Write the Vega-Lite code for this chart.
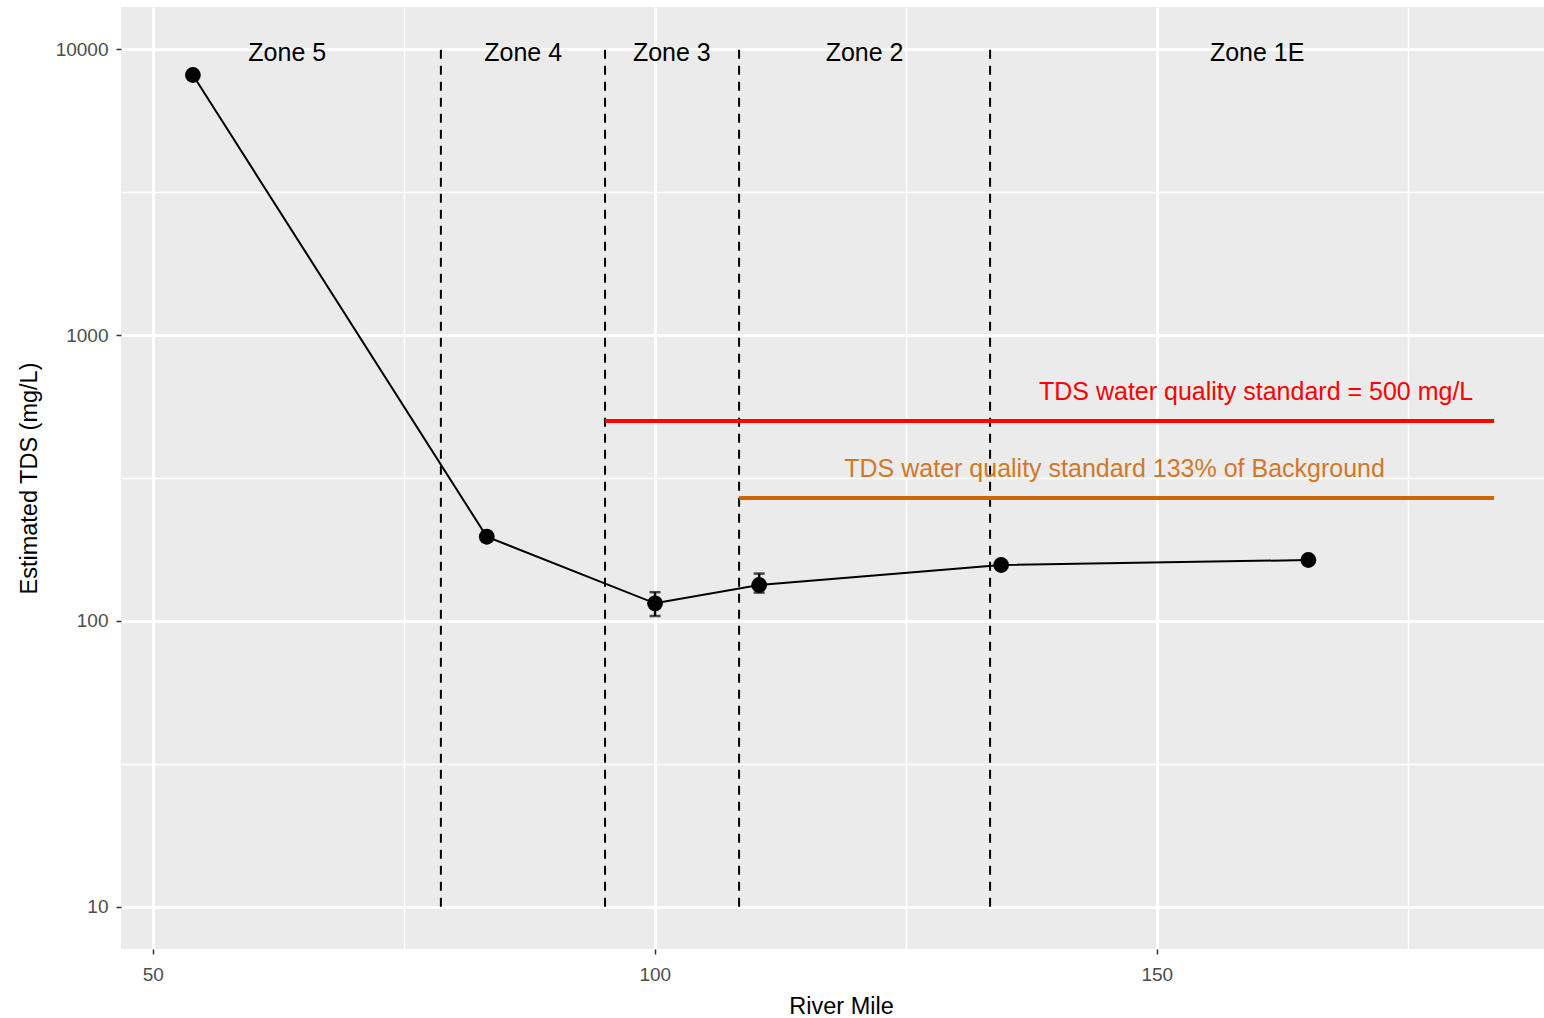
{
  "$schema": "https://vega.github.io/schema/vega-lite/v6.json",
  "width": 1423,
  "height": 942,
  "autosize": {"type": "none"},
  "padding": {"left": 121, "top": 7, "right": 0, "bottom": 69},
  "background": "white",
  "config": {
    "font": "Liberation Sans",
    "view": {"fill": "#EBEBEB", "stroke": null}
  },
  "datasets": {
    "points": [
      {"x": 54.0, "y": 8128},
      {"x": 83.27, "y": 197},
      {"x": 100.03, "y": 115.2},
      {"x": 110.4, "y": 133.5},
      {"x": 134.5, "y": 156.9},
      {"x": 165.1, "y": 163.3}
    ],
    "errors": [
      {"x": 54.0, "y": 7950, "y2": 8300},
      {"x": 83.27, "y": 190, "y2": 205},
      {"x": 100.03, "y": 104, "y2": 126},
      {"x": 110.4, "y": 125.6, "y2": 146.4},
      {"x": 134.5, "y": 152, "y2": 162},
      {"x": 165.1, "y": 158.5, "y2": 168}
    ],
    "zoneBounds": [
      {"x": 78.7, "y": 10, "y2": 10000},
      {"x": 95.05, "y": 10, "y2": 10000},
      {"x": 108.4, "y": 10, "y2": 10000},
      {"x": 133.4, "y": 10, "y2": 10000}
    ],
    "zones": [
      {"x": 63.4, "y": 9706, "label": "Zone 5"},
      {"x": 86.9, "y": 9706, "label": "Zone 4"},
      {"x": 101.7, "y": 9706, "label": "Zone 3"},
      {"x": 120.9, "y": 9706, "label": "Zone 2"},
      {"x": 160.0, "y": 9706, "label": "Zone 1E"}
    ],
    "std500": [{"x": 95.05, "x2": 183.6, "y": 500}],
    "std500label": [{"x": 159.9, "y": 632, "label": "TDS water quality standard = 500 mg/L"}],
    "std133": [{"x": 108.4, "x2": 183.6, "y": 269}],
    "std133label": [{"x": 145.8, "y": 340, "label": "TDS water quality standard 133% of Background"}]
  },
  "encoding": {
    "x": {
      "field": "x",
      "type": "quantitative",
      "scale": {"domain": [46.84, 188.57], "nice": false, "zero": false},
      "axis": {
        "title": "River Mile",
        "titleX": 720,
        "values": [50, 75, 100, 125, 150, 175],
        "labelExpr": "datum.value % 50 == 0 ? datum.label : ''",
        "domain": false,
        "grid": true,
        "gridColor": "white",
        "gridWidth": {"condition": {"test": "datum.value % 50 == 0", "value": 3}, "value": 1.5},
        "tickOpacity": {"condition": {"test": "datum.value % 50 == 0", "value": 1}, "value": 0},
        "tickColor": "#333333",
        "tickWidth": 1.5,
        "tickSize": 5,
        "labelFontSize": 19,
        "labelColor": "#4D4D4D",
        "labelPadding": 11,
        "titleFontSize": 23.5,
        "titleFontWeight": "normal",
        "titleColor": "black",
        "titlePadding": 10
      }
    },
    "y": {
      "field": "y",
      "type": "quantitative",
      "scale": {"type": "log", "domain": [7.11, 14061], "nice": false},
      "axis": {
        "title": "Estimated TDS (mg/L)",
        "values": [10, 31.6228, 100, 316.228, 1000, 3162.28, 10000],
        "format": "d",
        "labelExpr": "(datum.value == 10 || datum.value == 100 || datum.value == 1000 || datum.value == 10000) ? datum.label : ''",
        "domain": false,
        "grid": true,
        "gridColor": "white",
        "gridWidth": {"condition": {"test": "datum.value == 10 || datum.value == 100 || datum.value == 1000 || datum.value == 10000", "value": 3}, "value": 1.5},
        "tickOpacity": {"condition": {"test": "datum.value == 10 || datum.value == 100 || datum.value == 1000 || datum.value == 10000", "value": 1}, "value": 0},
        "tickColor": "#333333",
        "tickWidth": 1.5,
        "tickSize": 5,
        "labelFontSize": 19,
        "labelColor": "#4D4D4D",
        "labelPadding": 8,
        "titleFontSize": 23.5,
        "titleFontWeight": "normal",
        "titleColor": "black",
        "titlePadding": 14
      }
    }
  },
  "layer": [
    {
      "data": {"name": "zoneBounds"},
      "mark": {"type": "rule", "color": "black", "strokeWidth": 2, "strokeDash": [9, 7]},
      "encoding": {"y2": {"field": "y2"}}
    },
    {
      "data": {"name": "std500"},
      "mark": {"type": "rule", "color": "#FF0000", "strokeWidth": 4},
      "encoding": {"x2": {"field": "x2"}}
    },
    {
      "data": {"name": "std133"},
      "mark": {"type": "rule", "color": "#CC6600", "strokeWidth": 4},
      "encoding": {"x2": {"field": "x2"}}
    },
    {
      "data": {"name": "points"},
      "mark": {"type": "line", "color": "black", "strokeWidth": 2},
      "encoding": {}
    },
    {
      "data": {"name": "errors"},
      "mark": {"type": "rule", "color": "black", "strokeWidth": 2.5},
      "encoding": {"y2": {"field": "y2"}}
    },
    {
      "data": {"name": "errors"},
      "mark": {"type": "tick", "color": "black", "orient": "horizontal", "size": 11, "thickness": 2.5},
      "encoding": {}
    },
    {
      "data": {"name": "errors"},
      "mark": {"type": "tick", "color": "black", "orient": "horizontal", "size": 11, "thickness": 2.5},
      "encoding": {"y": {"field": "y2", "type": "quantitative"}}
    },
    {
      "data": {"name": "points"},
      "mark": {"type": "circle", "color": "black", "opacity": 1, "size": 250},
      "encoding": {}
    },
    {
      "data": {"name": "zones"},
      "mark": {"type": "text", "color": "black", "fontSize": 25, "baseline": "middle", "align": "center"},
      "encoding": {"text": {"field": "label"}}
    },
    {
      "data": {"name": "std500label"},
      "mark": {"type": "text", "color": "#FF0000", "fontSize": 25, "baseline": "middle", "align": "center"},
      "encoding": {"text": {"field": "label"}}
    },
    {
      "data": {"name": "std133label"},
      "mark": {"type": "text", "color": "#D0792A", "fontSize": 25, "baseline": "middle", "align": "center"},
      "encoding": {"text": {"field": "label"}}
    }
  ]
}
